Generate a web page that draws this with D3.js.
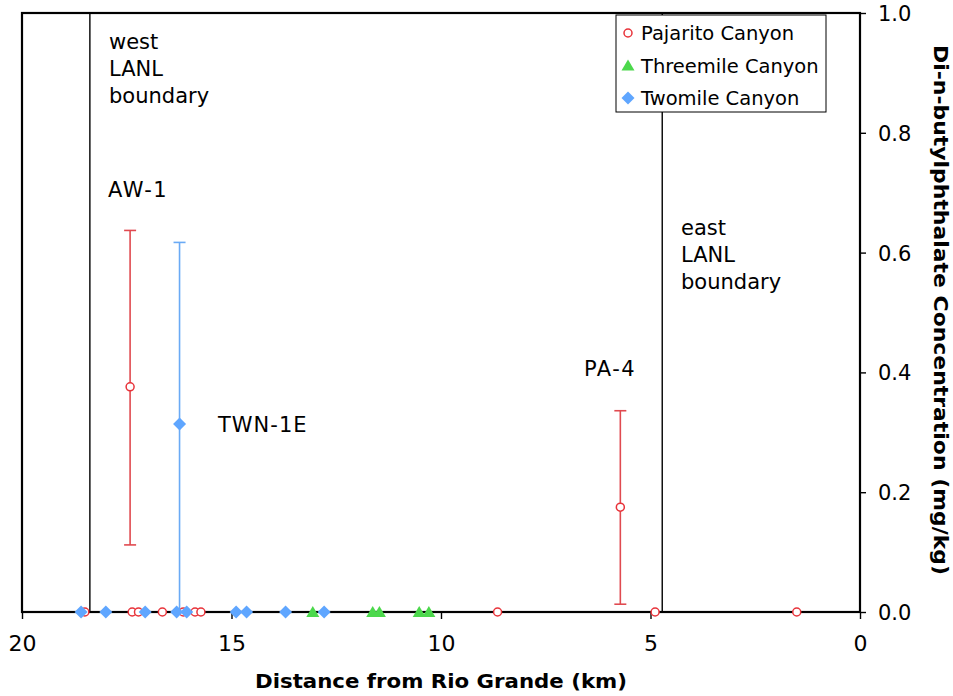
<!DOCTYPE html>
<html><head><meta charset="utf-8">
<script src="https://cdn.jsdelivr.net/npm/d3@7"></script>
<style>body{margin:0;background:#fff}svg{display:block}text{font-family:"DejaVu Sans",Verdana,sans-serif}</style>
</head><body><svg id="c" width="953" height="696"></svg>
<script>
// Distances (km from Rio Grande) and concentrations (mg/kg)
const pajaritoKm   = [18.50, 17.37, 17.22, 16.65, 16.15, 15.87, 15.73, 8.65, 4.89, 1.51, 17.42, 5.72];
const pajaritoConc = [0, 0, 0, 0, 0, 0, 0, 0, 0, 0, 0.376, 0.175];
const threemileKm   = [13.06, 11.63, 11.47, 10.52, 10.29];
const threemileConc = [0, 0, 0, 0, 0];
const twomileKm   = [18.59, 18.00, 17.06, 16.31, 16.07, 14.89, 14.64, 13.71, 12.79, 16.24];
const twomileConc = [0, 0, 0, 0, 0, 0, 0, 0, 0, 0.314];
// Error bars
const errKm   = [17.42, 16.24, 5.72];
const errLow  = [0.112, 0.0, 0.013];
const errHigh = [0.637, 0.617, 0.336];
const errSeries = ["Pajarito Canyon", "Twomile Canyon", "Pajarito Canyon"];
// Boundaries
const boundaryKm = [18.38, 4.72];
const xTicks = [20, 15, 10, 5, 0];
const yTicks = [0, 0.2, 0.4, 0.6, 0.8, 1.0];
const seriesNames = ["Pajarito Canyon", "Threemile Canyon", "Twomile Canyon"];
const colors = {"Pajarito Canyon":"#e8333a","Threemile Canyon":"#4cd84c","Twomile Canyon":"#5fa6ff"};
const errColors = {"Pajarito Canyon":"#e04a50","Twomile Canyon":"#6aaaf5"};

const svg = d3.select("#c");
const L = 22, R = 860, T = 13, B = 612;
const x = d3.scaleLinear().domain([20, 0]).range([L, R]);
const y = d3.scaleLinear().domain([0, 1]).range([B, T]);

// boundary lines
svg.selectAll("line.bd").data(boundaryKm).join("line")
  .attr("x1", d => x(d)).attr("x2", d => x(d)).attr("y1", T).attr("y2", B)
  .attr("stroke", "#000").attr("stroke-width", 1.4);

// axes
const xAxis = svg.append("g").attr("transform", `translate(0,${B})`)
  .call(d3.axisBottom(x).tickValues(xTicks).tickFormat(d3.format("d")).tickSize(7).tickPadding(16));
const yAxis = svg.append("g").attr("transform", `translate(${R},0)`)
  .call(d3.axisRight(y).tickValues(yTicks).tickFormat(d3.format(".1f")).tickSize(6).tickPadding(12));
[xAxis, yAxis].forEach(g => {
  g.select(".domain").remove();
  g.selectAll("line").attr("stroke", "#000").attr("stroke-width", 1.4);
  g.selectAll("text").attr("fill", "#000").style("font-family", "DejaVu Sans, Verdana, sans-serif");
});
xAxis.selectAll("text").attr("font-size", 22);
yAxis.selectAll("text").attr("font-size", 21).attr("dy", "0.36em");

// frame
svg.append("rect").attr("x", L).attr("y", T).attr("width", R - L).attr("height", B - T)
  .attr("fill", "none").attr("stroke", "#000").attr("stroke-width", 2.2);

// error bars
const eb = errKm.map((k, i) => ({k, lo: errLow[i], hi: errHigh[i], s: errSeries[i]}));
const ebG = svg.append("g");
eb.forEach(d => {
  const c = errColors[d.s];
  ebG.append("line").attr("x1", x(d.k)).attr("x2", x(d.k)).attr("y1", y(d.lo)).attr("y2", y(d.hi)).attr("stroke", c).attr("stroke-width", 1.6);
  [d.lo, d.hi].forEach(v => ebG.append("line").attr("x1", x(d.k) - 6).attr("x2", x(d.k) + 6).attr("y1", y(v)).attr("y2", y(v)).attr("stroke", c).attr("stroke-width", 1.6));
});

// markers
function drawMarker(g, s, px, py) {
  if (s === "Pajarito Canyon") {
    g.append("circle").attr("cx", px).attr("cy", py).attr("r", 4).attr("fill", "#fff").attr("stroke", colors[s]).attr("stroke-width", 1.5);
  } else if (s === "Threemile Canyon") {
    g.append("path").attr("d", "M0,-6L6.5,5L-6.5,5Z").attr("transform", `translate(${px},${py})`).attr("fill", colors[s]);
  } else {
    g.append("path").attr("d", "M0,-6.5L6.5,0L0,6.5L-6.5,0Z").attr("transform", `translate(${px},${py})`).attr("fill", colors[s]);
  }
}
const mG = svg.append("g");
pajaritoKm.forEach((k, i) => drawMarker(mG, "Pajarito Canyon", x(k), y(pajaritoConc[i])));
threemileKm.forEach((k, i) => drawMarker(mG, "Threemile Canyon", x(k), y(threemileConc[i])));
twomileKm.forEach((k, i) => drawMarker(mG, "Twomile Canyon", x(k), y(twomileConc[i])));

// annotations
const ann = svg.append("g").attr("font-size", 21).attr("fill", "#000");
function multi(px, py, lines) {
  const t = ann.append("text").attr("x", px).attr("y", py);
  lines.forEach((l, i) => t.append("tspan").attr("x", px).attr("dy", i ? 27 : 0).text(l));
}
multi(109, 49, ["west", "LANL", "boundary"]);
multi(681, 235, ["east", "LANL", "boundary"]);
ann.append("text").attr("x", 108).attr("y", 197).attr("letter-spacing", 1.5).text("AW-1");
ann.append("text").attr("x", 218).attr("y", 432).attr("letter-spacing", 1).text("TWN-1E");
ann.append("text").attr("x", 584).attr("y", 376).attr("letter-spacing", 1.5).text("PA-4");

// legend
const lg = svg.append("g");
lg.append("rect").attr("x", 616).attr("y", 15).attr("width", 210).attr("height", 97).attr("fill", "#fff").attr("stroke", "#000").attr("stroke-width", 1);
seriesNames.forEach((s, i) => {
  const cy = 33 + i * 32.5;
  drawMarker(lg, s, 628, cy);
  lg.append("text").attr("x", 641).attr("y", cy).attr("dy", "0.36em").attr("font-size", 19.5).text(s);
});

// axis titles
svg.append("text").attr("x", x(10)).attr("y", 688).attr("text-anchor", "middle")
  .attr("font-size", 19).attr("font-weight", "bold")
  .attr("textLength", 372).attr("lengthAdjust", "spacingAndGlyphs").text("Distance from Rio Grande (km)");
svg.append("text").attr("transform", `translate(934,310) rotate(90)`).attr("text-anchor", "middle")
  .attr("font-size", 19).attr("font-weight", "bold")
  .attr("textLength", 530).attr("lengthAdjust", "spacingAndGlyphs").text("Di-n-butylphthalate Concentration (mg/kg)");
</script></body></html>
